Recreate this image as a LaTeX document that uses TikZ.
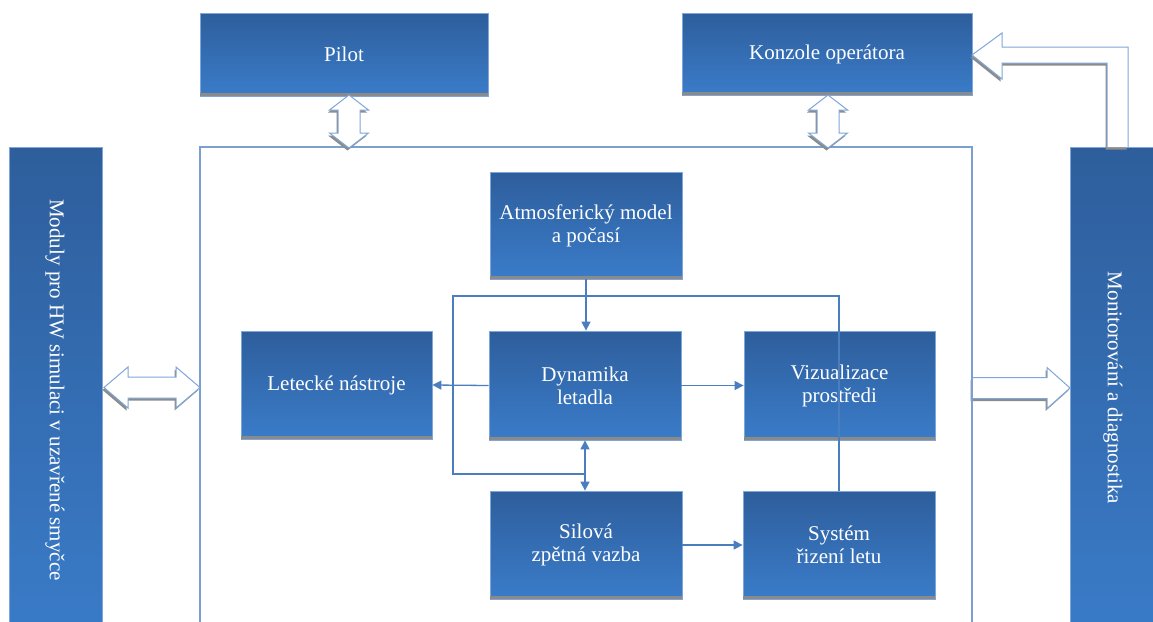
\documentclass[tikz,border=0pt]{standalone}
\usepackage{fontspec}
\setmainfont{Liberation Serif}
\usetikzlibrary{arrows.meta}
\definecolor{btop}{HTML}{2E5E9C}
\definecolor{bbot}{HTML}{3A7CC9}
\definecolor{bedge}{HTML}{7EA6D8}
\definecolor{connc}{HTML}{4A7EBE}
\definecolor{stripc}{HTML}{8A8A8A}
\definecolor{framec}{HTML}{7B9FD0}
\definecolor{shadowc}{HTML}{8C8C8C}
\tikzset{
  box/.style={draw=bedge, line width=0.8pt, top color=btop, bottom color=bbot,
    text=white, font=\fontsize{21}{23}\selectfont, align=center, inner sep=0pt},
  bar/.style={draw=bedge, line width=0.8pt, top color=btop, bottom color=bbot, inner sep=0pt},
  vtext/.style={text=white, font=\fontsize{21}{23}\selectfont, rotate=-90, inner sep=0pt},
  conn/.style={draw=connc, line width=1.3pt},
  tipend/.style={-{Triangle[length=9pt,width=9pt]}},
  fat/.style={fill=white, draw=bedge, line width=1pt,
    preaction={fill=shadowc, transform canvas={xshift=-1.5pt,yshift=-2.5pt}}},
  frm/.style={draw=framec, line width=1.2pt}
}
\newcommand\strip[1]{\fill[stripc] ([yshift=3pt]#1.south west) rectangle (#1.south east);}
\begin{document}
\begin{tikzpicture}[x=1pt,y=-1pt]
\useasboundingbox (0,0) rectangle (1153,621);
\clip (0,0) rectangle (1153,621);
\fill[white] (0,0) rectangle (1153,621);

% big frame (open at bottom)
\draw[frm] (200,640) -- (200,147) -- (972,147) -- (972,640);

% side bars
\node[bar, minimum width=93pt, minimum height=500pt, anchor=north west] (lbar) at (9,147) {};
\node[vtext] (ltext) at (55,390) {Moduly pro HW simulaci v uzavřené smyčce};
\node[bar, minimum width=95pt, minimum height=500pt, anchor=north west] (rbar) at (1070,147) {};
\node[vtext] (rtext) at (1113,388) {Monitorování a diagnostika};

% top boxes
\node[box, minimum width=288pt, minimum height=83pt] (pilot) at (344,54.5) {Pilot};
\strip{pilot}
\node[box, minimum width=290pt, minimum height=82pt] (konz) at (827,54) {Konzole operátora};
\strip{konz}

% inner boxes
\node[box, minimum width=192pt, minimum height=107pt] (atm) at (586,225.5) {Atmosferický model\\a počasí};
\strip{atm}
\node[box, minimum width=191pt, minimum height=108pt] (let) at (336.5,385) {Letecké nástroje};
\strip{let}
\node[box, minimum width=192pt, minimum height=109pt] (dyn) at (585,385.5) {Dynamika\\letadla};
\strip{dyn}
\node[box, minimum width=191pt, minimum height=109pt] (viz) at (839.5,385.5) {Vizualizace\\prostředi};
\strip{viz}
\node[box, minimum width=192pt, minimum height=108pt] (sil) at (586,545) {Silová\\zpětná vazba};
\strip{sil}
\node[box, minimum width=192pt, minimum height=108pt] (sys) at (839,545) {Systém\\řizení letu};
\strip{sys}

% thin connectors
\draw[conn, tipend] (atm.south) -- (atm.south |- dyn.north);
\draw[conn, tipend] (dyn.west) -- (let.east);
\draw[conn, tipend] (dyn.east) -- (viz.west);
\draw[conn, tipend] (sil.east) -- (sil.east -| sys.west);
\draw[conn, {Triangle[length=9pt,width=9pt]}-{Triangle[length=9pt,width=9pt]}] (dyn.south) -- (dyn.south |- sil.north);
\coordinate (lpa) at (585,474);
\coordinate (lpb) at (453,474);
\coordinate (lpc) at (453,296);
\coordinate (lpd) at (839,296);
\draw[conn, line width=1.1pt] (lpa) -- (lpb) -- (lpc) -- (lpd) -- (lpd |- sys.north);

% fat arrows
\path[fat] (349,95) -- ++(19.5,15) -- ++(-8.5,0) -- ++(0,23) -- ++(8.5,0) -- ++(-19.5,15)
  -- ++(-19.5,-15) -- ++(8.5,0) -- ++(0,-23) -- ++(-8.5,0) -- cycle;
\path[fat] (828,95) -- ++(19.5,15) -- ++(-8.5,0) -- ++(0,23) -- ++(8.5,0) -- ++(-19.5,15)
  -- ++(-19.5,-15) -- ++(8.5,0) -- ++(0,-23) -- ++(-8.5,0) -- cycle;
\path[fat] (104,387.5) -- ++(24,-20.5) -- ++(0,10) -- ++(48,0) -- ++(0,-10) -- ++(24,20.5)
  -- ++(-24,20.5) -- ++(0,-10) -- ++(-48,0) -- ++(0,10) -- cycle;
\path[fat] (972,377.5) -- (1047,377.5) -- (1047,367.5) -- (1070,388) -- (1047,408.5)
  -- (1047,398.5) -- (972,398.5) -- cycle;
\path[fat] (1128,147) -- (1128,47) -- (1002,47) -- (1002,33) -- (972,55) -- (1002,79)
  -- (1002,63) -- (1107,63) -- (1107,147);
\draw[frm] (972,360) -- (972,420);
\end{tikzpicture}
\end{document}
